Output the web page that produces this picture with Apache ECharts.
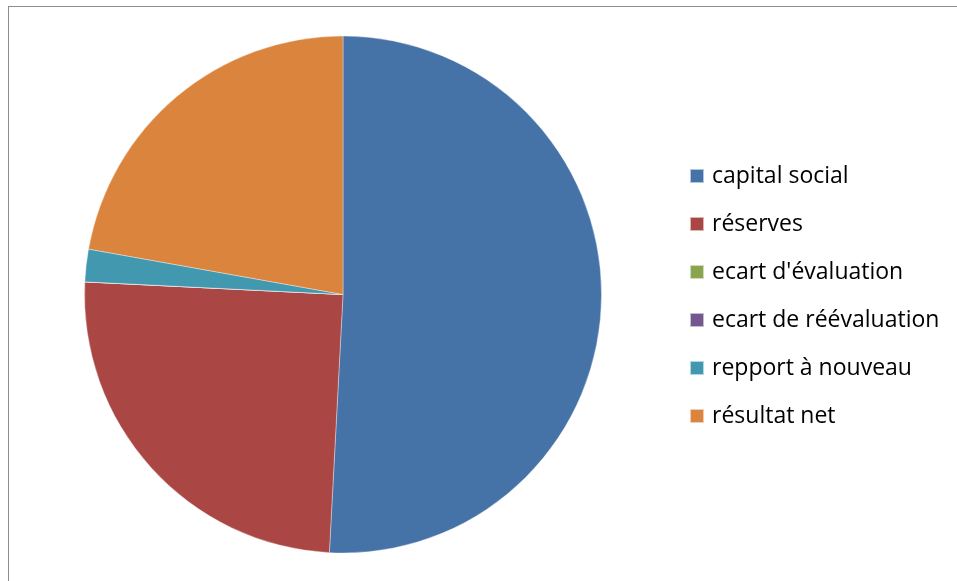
<!DOCTYPE html>
<html>
<head>
<meta charset="utf-8">
<script src="https://cdn.jsdelivr.net/npm/echarts@6/dist/echarts.min.js"></script>
<style>
  html, body { margin: 0; padding: 0; background: #fff; }
  #frame { position: absolute; left: 8px; top: 6px; width: 960px; height: 590px;
           border-top: 1.5px solid #8c8c8c; border-left: 1.5px solid #8c8c8c; }
  #chart { position: absolute; left: 0; top: 0; width: 957px; height: 581px; }
</style>
</head>
<body>
<div id="frame"></div>
<div id="chart"></div>
<script>
// parts of equity (%)
var categories = ["capital social", "réserves", "ecart d'évaluation", "ecart de réévaluation", "repport à nouveau", "résultat net"];
var values = [50.84, 24.94, 0, 0, 2.03, 22.19];
var colors = ["#4572A7", "#AA4643", "#89A54E", "#71588F", "#4198AF", "#DB843D"];

var myChart = echarts.init(document.getElementById("chart"));

var data = [];
for (let i = 0; i < categories.length; i++) {
  data.push({
    name: categories[i],
    value: values[i],
    itemStyle: { color: colors[i] }
  });
}

var option = {
  animation: false,
  legend: {
    orient: "vertical",
    left: 689,
    top: 164,
    padding: 0,
    data: categories,
    icon: "rect",
    itemWidth: 14,
    itemHeight: 14,
    itemGap: 24,
    textStyle: {
      fontFamily: "Open Sans",
      fontSize: 23,
      color: "#000",
      lineHeight: 24,
      padding: [0, 0, 0, 3]
    },
    selectedMode: false
  },
  series: [
    {
      type: "pie",
      center: [343, 294.5],
      radius: 258.5,
      startAngle: 90,
      clockwise: true,
      data: data,
      label: { show: false },
      labelLine: { show: false },
      itemStyle: { borderColor: "rgba(255,255,255,0.6)", borderWidth: 0.6 },
      emphasis: { disabled: true }
    }
  ]
};

myChart.setOption(option, true);
</script>
</body>
</html>
